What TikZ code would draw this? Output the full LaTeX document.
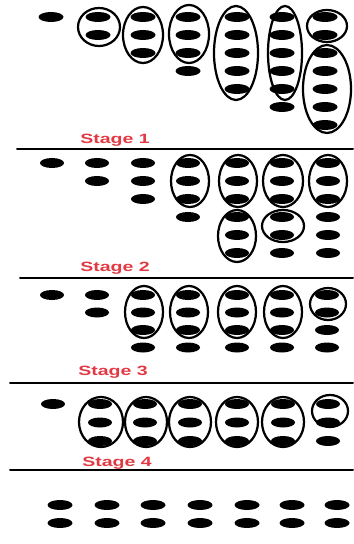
\documentclass[tikz,border=0pt]{standalone}
\usepackage{fontspec}
\setmainfont{Liberation Sans}
\definecolor{stagered}{RGB}{226,58,68}
\tikzset{
	counter/.style={fill=black},
	group/.style={draw=black, line width=1.9pt},
	rulebar/.style={draw=black, line width=1.7pt},
	stagelabel/.style={text=stagered, font=\fontsize{11.5}{12}\selectfont\bfseries, xscale=1.45, anchor=west, inner sep=0pt}
}
\begin{document}
\begin{tikzpicture}[x=0.03cm, y=-0.03cm, line join=round, line cap=round]
				\useasboundingbox (0,0) rectangle (353,544);
				\path
				(17,149) coordinate (L1) (353,149) coordinate (R1)
				(20,278) coordinate (L2) (353,278) coordinate (R2)
				(10,383) coordinate (L3) (353,383) coordinate (R3)
				(10,470) coordinate (L4) (353,470) coordinate (R4);
				\foreach \s in {1,2,3,4}
				\draw[rulebar] (L\s)--(R\s);
				\foreach \x/\n in {51/1,98/2,143/3,188/4,237/5,282/6,325/7}
				\foreach \r in {1,...,\n}
				\fill[counter] (\x,{17+18*(\r-1)}) ellipse [x radius=12.5, y radius=5];
				\foreach \x/\y/\a/\b in {99/27/21/19,143/35/20/28,189/34/20/29,236/53/22/47,285/53/17/47,327/26/20/16,327/89/24/44}
				\draw[group] (\x,\y) ellipse [x radius=\a, y radius=\b];
				\node[stagelabel] (stage1) at (80,140) {Stage 1};
				\foreach \x/\n in {52/1,97/2,143/3,188/4,237/6,282/6,328/6}
				\foreach \r in {1,...,\n}
				\fill[counter] (\x,{163+18*(\r-1)}) ellipse [x radius=12, y radius=5];
				\foreach \x/\y/\a/\b in {190/181/19/26,238/181/19/26,237/236/19/26,283/181/20/26,283/226/21/16,328/181/19/26}
				\draw[group] (\x,\y) ellipse [x radius=\a, y radius=\b];
				\node[stagelabel] (stage2) at (80,268) {Stage 2};
				\foreach \x/\n in {52/1,97/2,143/4,188/4,237/4,282/4,327/4}
				\foreach \r in {1,...,\n}
				\fill[counter] (\x,{295+17.5*(\r-1)}) ellipse [x radius=12, y radius=5];
				\foreach \x/\y/\a/\b in {144/312/19/26,189/312/19/26,237/312/19/26,283/312/19/26,328/304/18/16}
				\draw[group] (\x,\y) ellipse [x radius=\a, y radius=\b];
				\node[stagelabel] (stage3) at (78,372) {Stage 3};
				\foreach \x/\n in {53/1,100/3,145/3,190/3,237/3,283/3,328/3}
				\foreach \r in {1,...,\n}
				\fill[counter] (\x,{404+18.5*(\r-1)}) ellipse [x radius=12, y radius=5];
				\foreach \x/\y/\a/\b in {101/422/22/25,146/422/21/25,190/422/21/25,237/422/21/25,283/422/21/25,330/411/18/16}
				\draw[group] (\x,\y) ellipse [x radius=\a, y radius=\b];
				\node[stagelabel] (stage4) at (82,463) {Stage 4};
				\foreach \x in {60,107,153,200,247,292,337}
				\foreach \y in {505,523}
				\fill[counter] (\x,\y) ellipse [x radius=12.5, y radius=5];
\end{tikzpicture}
\end{document}
